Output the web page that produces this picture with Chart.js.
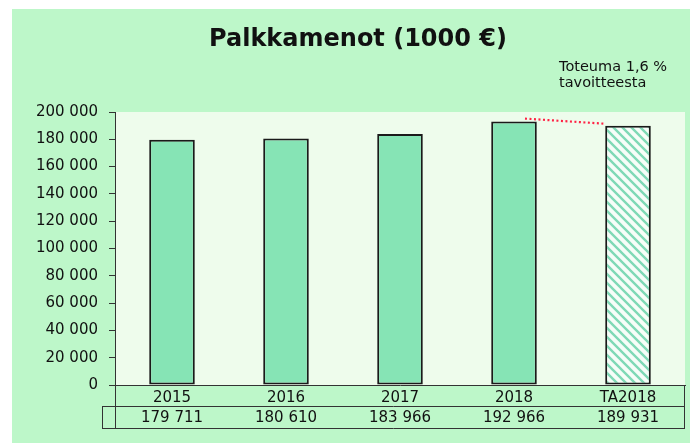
<!DOCTYPE html>
<html>
<head>
<meta charset="utf-8">
<script src="https://cdn.jsdelivr.net/npm/chart.js@4"></script>
<style>
  html, body { margin: 0; padding: 0; background: #ffffff; }
  #wrap { width: 690px; height: 443px; position: relative; }
</style>
</head>
<body>
<div id="wrap"><canvas id="c"></canvas></div>
<script>
// ---- data ----
const categories = ['2015', '2016', '2017', '2018', 'TA2018'];
const values = [179711, 180610, 183966, 192966, 189931];
const yMin = 0;
const yMax = 200000;
const yStep = 20000;
const titleText = 'Palkkamenot (1000 €)';
const noteLines = ['Toteuma 1,6 %', 'tavoitteesta'];
const targetIndex = 4;   // hatched budget bar
const compareIndex = 3;  // actual bar compared with budget

// ---- styles ----
const FONT = 'DejaVu Sans';
const outerGreen = '#bdf7c9';
const plotBg = '#eefcec';
const barFill = '#86e4b5';
const hatchColor = '#7fd9b6';
const textColor = '#111111';

function fmt(v) {
  return String(v).replace(/\B(?=(\d{3})+(?!\d))/g, ' ');
}

function makeHatch() {
  const s = 9;
  const c = document.createElement('canvas');
  c.width = s; c.height = s;
  const g = c.getContext('2d');
  g.fillStyle = '#f6fdf8';
  g.fillRect(0, 0, s, s);
  g.strokeStyle = hatchColor;
  g.lineWidth = 2.4;
  g.beginPath();
  g.moveTo(-2, -2); g.lineTo(s + 2, s + 2);
  g.moveTo(-2 - s, -2); g.lineTo(2, s + 2);
  g.moveTo(s - 2, -2); g.lineTo(2 * s + 2, s + 2);
  g.stroke();
  return g.createPattern(c, 'repeat');
}

const hatch = makeHatch();

const decorPlugin = {
  id: 'decor',
  beforeDraw(chart) {
    const ctx = chart.ctx;
    const a = chart.chartArea;
    ctx.save();
    ctx.fillStyle = '#ffffff';
    ctx.fillRect(0, 0, chart.width, chart.height);
    ctx.fillStyle = outerGreen;
    ctx.fillRect(12, 9, chart.width - 12, chart.height - 9);
    ctx.fillStyle = plotBg;
    ctx.fillRect(a.left, a.top, a.right - a.left, a.bottom - a.top);
    ctx.restore();
  },
  afterDraw(chart) {
    const ctx = chart.ctx;
    const a = chart.chartArea;
    const xs = chart.scales.x;
    ctx.save();
    // title
    ctx.fillStyle = textColor;
    ctx.font = 'bold 24px "' + FONT + '"';
    ctx.textAlign = 'center';
    ctx.textBaseline = 'middle';
    ctx.fillText(titleText, 358, 40);
    // note
    ctx.font = '14.5px "' + FONT + '"';
    ctx.textAlign = 'left';
    noteLines.forEach((t, i) => ctx.fillText(t, 559, 67 + i * 16));
    // value row
    ctx.font = '15px "' + FONT + '"';
    ctx.textAlign = 'center';
    const rowTop = a.bottom + 21;
    const rowBot = a.bottom + 43;
    values.forEach((v, i) => {
      ctx.fillText(fmt(v), xs.getPixelForValue(i), (rowTop + rowBot) / 2 + 1);
    });
    // table lines
    ctx.strokeStyle = '#333333';
    ctx.lineWidth = 1;
    ctx.beginPath();
    ctx.moveTo(a.left - 13, rowTop + 0.5); ctx.lineTo(a.right, rowTop + 0.5);
    ctx.moveTo(a.left - 13, rowBot + 0.5); ctx.lineTo(a.right, rowBot + 0.5);
    ctx.moveTo(a.left - 12.5, rowTop); ctx.lineTo(a.left - 12.5, rowBot + 0.5);
    ctx.moveTo(a.left + 0.5, a.bottom); ctx.lineTo(a.left + 0.5, rowBot + 0.5);
    ctx.moveTo(a.right - 0.5, a.bottom); ctx.lineTo(a.right - 0.5, rowBot + 0.5);
    ctx.stroke();
    // red dotted comparison line
    const meta = chart.getDatasetMeta(0);
    const b1 = meta.data[compareIndex];
    const b2 = meta.data[targetIndex];
    const w2 = b2.width;
    ctx.strokeStyle = '#ff2244';
    ctx.lineWidth = 2.2;
    ctx.setLineDash([2, 2.5]);
    ctx.beginPath();
    ctx.moveTo(b1.x + 11, b1.y - 3);
    ctx.lineTo(b2.x - w2 / 2, b2.y - 2);
    ctx.stroke();
    ctx.restore();
  }
};

Chart.defaults.font.family = FONT;
Chart.defaults.color = textColor;

new Chart(document.getElementById('c'), {
  type: 'bar',
  data: {
    labels: categories,
    datasets: [{
      data: values,
      backgroundColor: values.map((v, i) => i === targetIndex ? hatch : barFill),
      borderColor: '#1a1a1a',
      borderWidth: 2,
      borderSkipped: false,
      barPercentage: 0.4,
      categoryPercentage: 1.0
    }]
  },
  options: {
    responsive: true,
    maintainAspectRatio: false,
    animation: false,
    devicePixelRatio: 1,
    layout: { padding: { top: 112, right: 5, left: 0, bottom: 0 } },
    plugins: { legend: { display: false }, tooltip: { enabled: false }, title: { display: false } },
    scales: {
      x: {
        grid: { display: true, drawOnChartArea: false, drawTicks: false },
        border: { display: true, color: '#333333', width: 1 },
        ticks: { font: { size: 15 }, padding: 4, color: textColor },
        afterFit(scale) { scale.height = 58; }
      },
      y: {
        min: yMin,
        max: yMax,
        grid: { display: true, drawOnChartArea: false, drawTicks: true, tickLength: 6, color: '#333333' },
        border: { display: true, color: '#333333', width: 1 },
        ticks: {
          stepSize: yStep,
          padding: 11,
          font: { size: 15 },
          color: textColor,
          callback: (v) => fmt(v)
        },
        afterFit(scale) { scale.width = 115; }
      }
    }
  },
  plugins: [decorPlugin]
});
</script>
</body>
</html>
